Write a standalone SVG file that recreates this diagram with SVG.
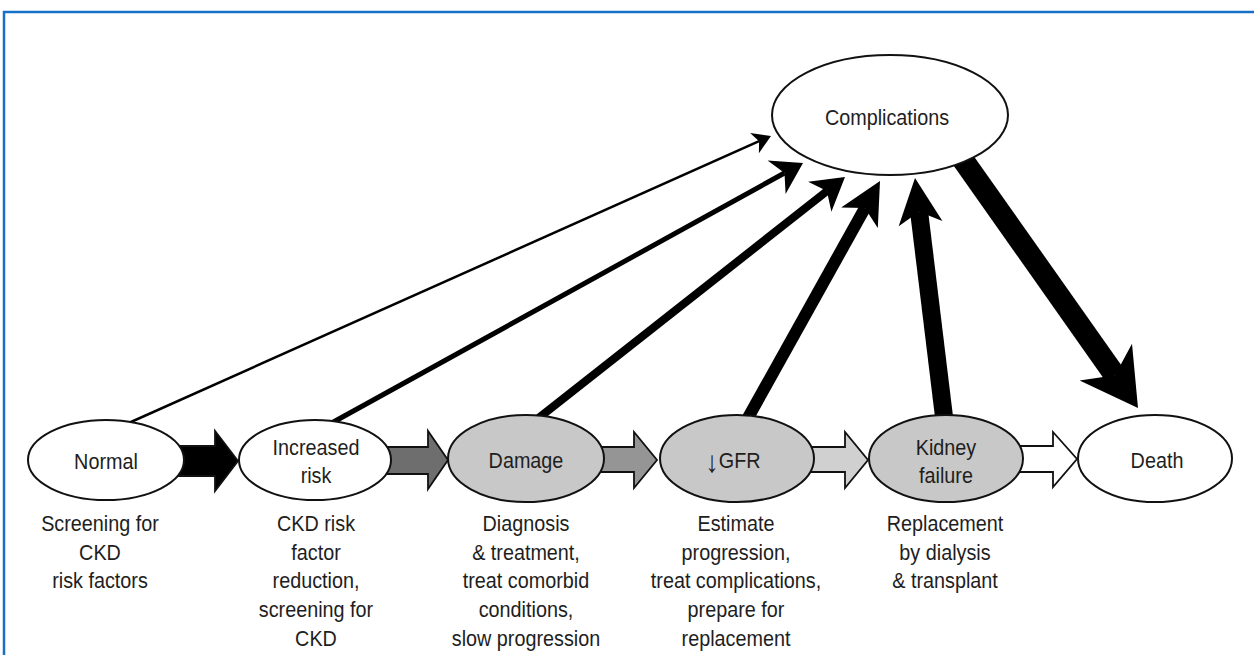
<svg xmlns="http://www.w3.org/2000/svg" width="1254" height="655" viewBox="0 0 1254 655">
<style>
  .lbl { font-family: "Liberation Sans", Arial, sans-serif; font-size: 22px; fill: #1e1e1e; text-anchor: middle; transform-box: fill-box; transform-origin: center; transform: scaleX(0.9); }
  .node { stroke: #111; stroke-width: 2; }
  .white { fill: #ffffff; }
  .gray { fill: #c8c8c8; }
  .shaft { stroke: #000; fill: none; stroke-linecap: butt; }
  .head { fill: #000; }
  .blk { stroke: #111; stroke-width: 1.8; stroke-linejoin: miter; }
</style>
<rect x="0" y="0" width="1254" height="655" fill="#ffffff"/>
<path d="M4,655 V12 H1254" fill="none" stroke="#1670c8" stroke-width="2.5"/>

<g id="connectors">
  <!-- progression block arrows -->
  <polygon class="blk" fill="#000000" points="178,446 215,446 215,431 238,461 215,491 215,476 178,476"/>
  <polygon class="blk" fill="#6e6e6e" points="386,447 428,447 428,431 448,460 428,489 428,474 386,474"/>
  <polygon class="blk" fill="#959595" points="598,447 634,447 634,432 657,460 634,488 634,472 598,472"/>
  <polygon class="blk" fill="#d0d0d0" points="808,447 845,447 845,432 868,460 845,488 845,472 808,472"/>
  <polygon class="blk" fill="#ffffff" points="1018,446 1053,446 1053,432 1077,459 1053,487 1053,472 1018,472"/>

  <!-- arrows to Complications -->
  <line class="shaft" x1="122" y1="426" x2="759.1" y2="141.2" stroke-width="2.5"/>
  <polygon class="head" points="771,136 758.9,153.3 759.1,141.2 750.1,133.1"/>

  <line class="shaft" x1="328" y1="425" x2="784.5" y2="173" stroke-width="5"/>
  <polygon class="head" points="803,163 785.6,194 784.5,173 767.6,160.5"/>

  <line class="shaft" x1="531" y1="424" x2="826.9" y2="191.1" stroke-width="8"/>
  <polygon class="head" points="845,177 831.4,211.7 826.9,191.1 808.1,181.7"/>

  <line class="shaft" x1="744" y1="425" x2="864.9" y2="208.1" stroke-width="12"/>
  <polygon class="head" points="880,181 877.8,227.9 864.9,208.1 841.2,207.4"/>

  <line class="shaft" x1="945" y1="425" x2="919.1" y2="211.8" stroke-width="18"/>
  <polygon class="head" points="915,178 942.4,221 919.1,211.8 898.7,226.3"/>

  <!-- Complications to Death -->
  <line class="shaft" x1="956" y1="150" x2="1115" y2="375.3" stroke-width="22"/>
  <polygon class="head" points="1138,408 1079.6,380.6 1115,375.3 1132,343.8"/>
</g>

<g id="node-complications">
  <ellipse class="node white" cx="890" cy="115" rx="118" ry="60"/>
  <text class="lbl" x="887" y="125">Complications</text>
</g>

<g id="node-normal">
  <ellipse class="node white" cx="106" cy="460" rx="78" ry="40"/>
  <text class="lbl" x="106" y="469">Normal</text>
  <text class="lbl" x="100" y="531">Screening for</text>
  <text class="lbl" x="100" y="560">CKD</text>
  <text class="lbl" x="100" y="588">risk factors</text>
</g>

<g id="node-increased">
  <ellipse class="node white" cx="315" cy="460" rx="76" ry="40"/>
  <text class="lbl" x="316" y="455">Increased</text>
  <text class="lbl" x="316" y="483">risk</text>
  <text class="lbl" x="316" y="531">CKD risk</text>
  <text class="lbl" x="316" y="560">factor</text>
  <text class="lbl" x="316" y="588">reduction,</text>
  <text class="lbl" x="316" y="617">screening for</text>
  <text class="lbl" x="316" y="646">CKD</text>
</g>

<g id="node-damage">
  <ellipse class="node gray" cx="526" cy="458.5" rx="78" ry="43.5"/>
  <text class="lbl" x="526" y="468">Damage</text>
  <text class="lbl" x="526" y="531">Diagnosis</text>
  <text class="lbl" x="526" y="560">&amp; treatment,</text>
  <text class="lbl" x="526" y="588">treat comorbid</text>
  <text class="lbl" x="526" y="617">conditions,</text>
  <text class="lbl" x="526" y="646">slow progression</text>
</g>

<g id="node-gfr">
  <ellipse class="node gray" cx="737" cy="458.5" rx="77" ry="43.5"/>
  <text class="lbl" x="733" y="468"><tspan font-size="30" dy="4">↓</tspan><tspan dy="-4">GFR</tspan></text>
  <text class="lbl" x="736" y="531">Estimate</text>
  <text class="lbl" x="736" y="560">progression,</text>
  <text class="lbl" x="736" y="588">treat complications,</text>
  <text class="lbl" x="736" y="617">prepare for</text>
  <text class="lbl" x="736" y="646">replacement</text>
</g>

<g id="node-kidney">
  <ellipse class="node gray" cx="946" cy="458.5" rx="77" ry="43.5"/>
  <text class="lbl" x="946" y="455">Kidney</text>
  <text class="lbl" x="946" y="483">failure</text>
  <text class="lbl" x="945" y="531">Replacement</text>
  <text class="lbl" x="945" y="560">by dialysis</text>
  <text class="lbl" x="945" y="588">&amp; transplant</text>
</g>

<g id="node-death">
  <ellipse class="node white" cx="1155" cy="458.5" rx="77" ry="43.5"/>
  <text class="lbl" x="1157" y="468">Death</text>
</g>
</svg>
